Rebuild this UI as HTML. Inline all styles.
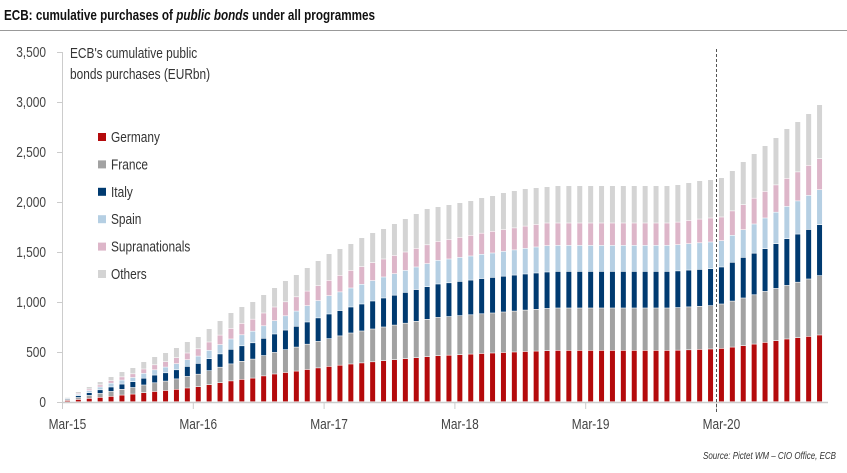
<!DOCTYPE html>
<html><head><meta charset="utf-8"><style>
html,body{margin:0;padding:0;background:#fff;}
svg{display:block;font-family:"Liberation Sans",sans-serif;}
</style></head><body>
<svg id="chart" width="847" height="473" viewBox="0 0 847 473" xmlns="http://www.w3.org/2000/svg">
<text x="4" y="20" font-size="15" font-weight="bold" fill="#111" textLength="371" lengthAdjust="spacingAndGlyphs">ECB: cumulative purchases of <tspan font-style="italic">public bonds</tspan> under all programmes</text>
<line x1="0" y1="30.5" x2="847" y2="30.5" stroke="#999" stroke-width="1"/>
<g id="axes"></g>
<g id="bars"></g>
<line x1="716.5" y1="49" x2="716.5" y2="412" stroke="#555" stroke-width="1" stroke-dasharray="3,2"/>
<text class="cond" x="70" y="58" font-size="14.5" fill="#333">ECB's cumulative public</text>
<text class="cond" x="70" y="79" font-size="14.5" fill="#333">bonds purchases (EURbn)</text>
<g id="legend"></g>
<text x="703" y="459" font-size="10" font-style="italic" fill="#333" textLength="133" lengthAdjust="spacingAndGlyphs">Source: Pictet WM – CIO Office, ECB</text>
</svg>
<script>
const categories = (function(){const m=["Jan","Feb","Mar","Apr","May","Jun","Jul","Aug","Sep","Oct","Nov","Dec"];const a=[];for(let i=0;i<70;i++){const k=2+i;a.push(m[k%12]+"-"+(15+Math.floor(k/12)));}return a;})();
const seriesNames = ["Germany","France","Italy","Spain","Supranationals","Others"];
const seriesColors = ["#b40a0c","#a2a2a2","#003a70","#b5cfe3","#ddb6c9","#d4d4d4"];
const germany = [12,22,33,43,53,66,76,90,102,112,124,137,150,170,190,208,223,236,258,277,292,306,322,338,353,365,377,388,399,410,420,430,440,450,460,465,470,476,482,487,492,497,502,506,510,513,513,513,513,513,513,513,513,513,513,513,515,519,523,527,533,546,560,576,593,610,627,640,653,667];
const france = [10,20,30,40,50,58,66,77,87,94,104,116,125,140,155,170,181,190,203,216,228,240,253,265,277,293,310,319,328,337,346,355,364,374,383,386,390,393,397,400,405,409,414,418,423,424,424,424,424,424,424,424,424,424,424,424,426,429,431,433,444,460,477,493,510,523,536,555,574,593];
const italy = [9,18,27,36,44,52,58,68,77,83,91,100,108,120,133,146,155,163,173,184,196,208,222,235,247,253,260,270,280,290,299,308,317,326,334,338,343,347,352,356,358,360,361,363,364,366,366,366,366,366,366,366,366,366,366,366,367,368,369,370,370,388,406,416,427,447,467,481,495,510];
const spain = [6,14,21,28,38,40,42,48,53,57,61,67,73,83,93,103,110,116,125,133,143,152,163,173,183,187,190,197,204,210,215,220,226,231,236,238,240,241,243,244,248,252,256,260,263,260,260,260,260,260,260,260,260,260,260,260,262,264,266,267,263,270,277,292,307,315,323,332,341,350];
const supranationals = [5,10,16,21,26,32,37,44,50,54,60,67,73,84,95,106,114,120,128,137,140,143,146,150,153,165,176,177,179,180,182,184,186,188,190,195,200,206,211,216,218,220,223,225,227,224,224,224,224,224,224,224,224,224,224,224,226,232,237,240,237,244,250,258,266,273,280,290,300,310];
const others = [8,16,23,32,39,52,61,73,81,90,100,113,121,133,144,157,167,175,183,193,211,221,234,249,267,267,267,289,300,303,318,333,347,361,347,348,347,347,355,357,369,372,374,368,363,373,373,373,373,373,373,373,373,373,373,373,374,378,384,383,393,402,430,445,457,472,497,502,517,540];
const yTicks = [0,500,1000,1500,2000,2500,3000,3500];
const xTickLabels = ["Mar-15","Mar-16","Mar-17","Mar-18","Mar-19","Mar-20"];
const xTickIndex = [0,12,24,36,48,60];

const NS="http://www.w3.org/2000/svg";
const X0=62, STEP=10.9, Y0=402, YSCALE=0.1, BW=5;
function xBand(i){return X0+STEP*i+STEP/2;}
function yPos(v){return Y0-v*YSCALE;}
function mk(tag,attrs,parent){const e=document.createElementNS(NS,tag);for(const k in attrs)e.setAttribute(k,attrs[k]);parent.appendChild(e);return e;}

const axes=document.getElementById("axes");
let yl=mk("line",{x1:62.5,y1:yPos(3500),x2:62.5,y2:Y0,stroke:"#ccc","stroke-width":1},axes);


yTicks.forEach(v=>{
  const t=mk("line",{x1:57,y1:yPos(v)+0.5,x2:62,y2:yPos(v)+0.5,stroke:"#ccc","stroke-width":1},axes);
  
  
  const l=mk("text",{x:46,y:yPos(v)+5,"font-size":14.5,fill:"#444","text-anchor":"end","class":"cond"},axes);
  
  
  l.textContent=v.toLocaleString("en-US");
});
let xl=mk("line",{x1:62,y1:Y0+0.5,x2:828,y2:Y0+0.5,stroke:"#ccc","stroke-width":1.5},axes);


xTickIndex.forEach((ix,j)=>{
  const x=X0+STEP*ix;
  const t=mk("line",{x1:x+0.5,y1:Y0,x2:x+0.5,y2:Y0+7,stroke:"#ccc","stroke-width":1},axes);
  
  
  const l=mk("text",{x:xBand(ix),y:429,"font-size":14.5,fill:"#444","text-anchor":"middle","class":"cond"},axes);
  
  
  l.textContent=xTickLabels[j];
});

const series=[germany,france,italy,spain,supranationals,others];
const bars=document.getElementById("bars");
categories.forEach((c,i)=>{
  let cum=0;
  series.forEach((s,k)=>{
    const v=s[i];
    const yt=yPos(cum+v), yb=yPos(cum);
    const r=mk("rect",{x:xBand(i)-BW/2,y:yt,width:BW,height:Math.max(0,yb-yt-0.6),fill:seriesColors[k]},bars);
    
    
    cum+=v;
  });
});

const legend=document.getElementById("legend");
seriesNames.forEach((n,k)=>{
  const y=137+k*27.4;
  const sq=mk("rect",{x:98,y:y-4,width:8,height:8,fill:seriesColors[k]},legend);
  
  
  const t=mk("text",{x:111,y:y+5,"font-size":14.5,fill:"#333","class":"cond"},legend);
  
  
  t.textContent=n;
});

document.querySelectorAll("text.cond").forEach(t=>{
  const w=t.getComputedTextLength();
  t.setAttribute("textLength",(w*0.82).toFixed(1));
  t.setAttribute("lengthAdjust","spacingAndGlyphs");
});
</script>
</body></html>
